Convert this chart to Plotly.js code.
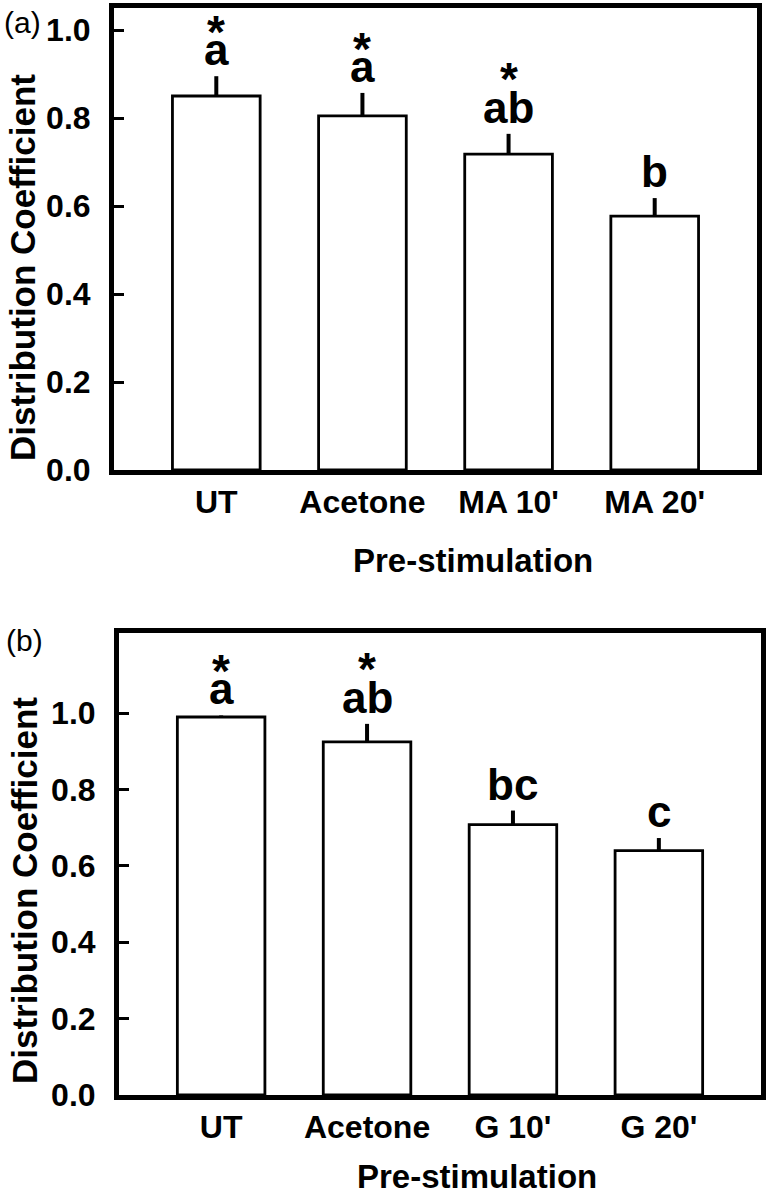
<!DOCTYPE html>
<html>
<head>
<meta charset="utf-8">
<script src="https://cdn.plot.ly/plotly-3.0.1.min.js"></script>
<style>html,body{margin:0;padding:0;background:#fff;}#chart{width:768px;height:1199px;}</style>
</head>
<body>
<div id="chart"></div>
<script>
// Panel (a)
const catsA = ["UT", "Acetone", "MA 10'", "MA 20'"];
const valsA = [0.850, 0.805, 0.718, 0.577];
const errsA = [0.045, 0.052, 0.046, 0.041];
const lettersA = ["a", "a", "ab", "b"];
const starsA = ["*", "*", "*", ""];

// Panel (b)
const catsB = ["UT", "Acetone", "G 10'", "G 20'"];
const valsB = [0.990, 0.925, 0.708, 0.640];
const errsB = [0.004, 0.047, 0.037, 0.033];
const lettersB = ["a", "ab", "bc", "c"];
const starsB = ["*", "*", "", ""];

const yTickVals = [0, 0.2, 0.4, 0.6, 0.8, 1.0];
const yTickText = ["0.0", "0.2", "0.4", "0.6", "0.8", "1.0"];
const xTitle = "Pre-stimulation";
const yTitle = "Distribution Coefficient";

const FONT = "Liberation Sans, Arial, Helvetica, sans-serif";

function barTrace(cats, vals, errs, xa, ya) {
  return {
    type: "bar", x: cats, y: vals, xaxis: xa, yaxis: ya, width: 0.6,
    marker: {color: "#ffffff", line: {color: "#000000", width: 2.8}},
    error_y: {type: "data", symmetric: false, array: errs, arrayminus: errs.map(() => 0),
              color: "#000000", thickness: 4, width: 0},
    hoverinfo: "skip", showlegend: false
  };
}

function xAxis(domain, anchor) {
  return {
    domain: domain, anchor: anchor, type: "category", range: [-0.7, 3.7],
    showline: true, linecolor: "#000", linewidth: 5, mirror: true,
    ticks: "", showgrid: false, zeroline: false,
    tickfont: {family: FONT, size: 32, color: "#000", weight: 700},
    ticklabelstandoff: 0, fixedrange: true
  };
}
function yAxis(domain, anchor, range) {
  return {
    domain: domain, anchor: anchor, range: range,
    showline: true, linecolor: "#000", linewidth: 5, mirror: true,
    ticks: "inside", ticklen: 10, tickwidth: 3, tickcolor: "#000",
    tickvals: yTickVals, ticktext: yTickText,
    showgrid: false, zeroline: false,
    tickfont: {family: FONT, size: 32, color: "#000", weight: 700},
    ticklabelstandoff: 12, fixedrange: true
  };
}

function letterAnns(cats, vals, errs, letters, stars, xa, ya) {
  const out = [];
  cats.forEach((c, i) => {
    out.push({x: c, y: vals[i] + errs[i], xref: xa, yref: ya, text: letters[i],
      showarrow: false, yanchor: "bottom", yshift: 0,
      font: {family: FONT, size: 44, color: "#000", weight: 700}});
    if (stars[i]) {
      out.push({x: c, y: vals[i] + errs[i], xref: xa, yref: ya, text: stars[i],
        showarrow: false, yanchor: "bottom", yshift: (/[bd]/.test(letters[i]) ? 27 : 16),
        font: {family: FONT, size: 46, color: "#000", weight: 700}});
    }
  });
  return out;
}

const W = 768, H = 1199;
const px = v => v / W, py = v => 1 - v / H;

const annotations = []
  .concat(letterAnns(catsA, valsA, errsA, lettersA, starsA, "x", "y"))
  .concat(letterAnns(catsB, valsB, errsB, lettersB, starsB, "x2", "y2"))
  .concat([
    {text: "(a)", xref: "paper", yref: "paper", x: px(2), y: py(22), xanchor: "left", yanchor: "middle",
     showarrow: false, font: {family: FONT, size: 30, color: "#000"}},
    {text: "(b)", xref: "paper", yref: "paper", x: px(4), y: py(640), xanchor: "left", yanchor: "middle",
     showarrow: false, font: {family: FONT, size: 30, color: "#000"}},
    {text: yTitle, xref: "paper", yref: "paper", x: px(22), y: py(268), textangle: -90,
     xanchor: "center", yanchor: "middle", showarrow: false,
     font: {family: FONT, size: 35, color: "#000", weight: 700}},
    {text: yTitle, xref: "paper", yref: "paper", x: px(24), y: py(891), textangle: -90,
     xanchor: "center", yanchor: "middle", showarrow: false,
     font: {family: FONT, size: 35, color: "#000", weight: 700}},
    {text: xTitle, xref: "paper", yref: "paper", x: px(473), y: py(560),
     xanchor: "center", yanchor: "middle", showarrow: false,
     font: {family: FONT, size: 33, color: "#000", weight: 700}},
    {text: xTitle, xref: "paper", yref: "paper", x: px(477), y: py(1176),
     xanchor: "center", yanchor: "middle", showarrow: false,
     font: {family: FONT, size: 33, color: "#000", weight: 700}}
  ]);

const layout = {
  width: W, height: H, margin: {l: 0, r: 0, t: 0, b: 0},
  paper_bgcolor: "#fff", plot_bgcolor: "#fff", showlegend: false,
  xaxis: xAxis([px(114), px(757)], "y"),
  yaxis: yAxis([py(470), py(8)], "x", [0, 1.05]),
  xaxis2: xAxis([px(119), px(761)], "y2"),
  yaxis2: yAxis([py(1095), py(633)], "x2", [0, 1.21]),
  annotations: annotations,
  bargap: 0.4
};

Plotly.newPlot("chart", [barTrace(catsA, valsA, errsA, "x", "y"), barTrace(catsB, valsB, errsB, "x2", "y2")],
  layout, {displayModeBar: false, staticPlot: true});
</script>
</body>
</html>
